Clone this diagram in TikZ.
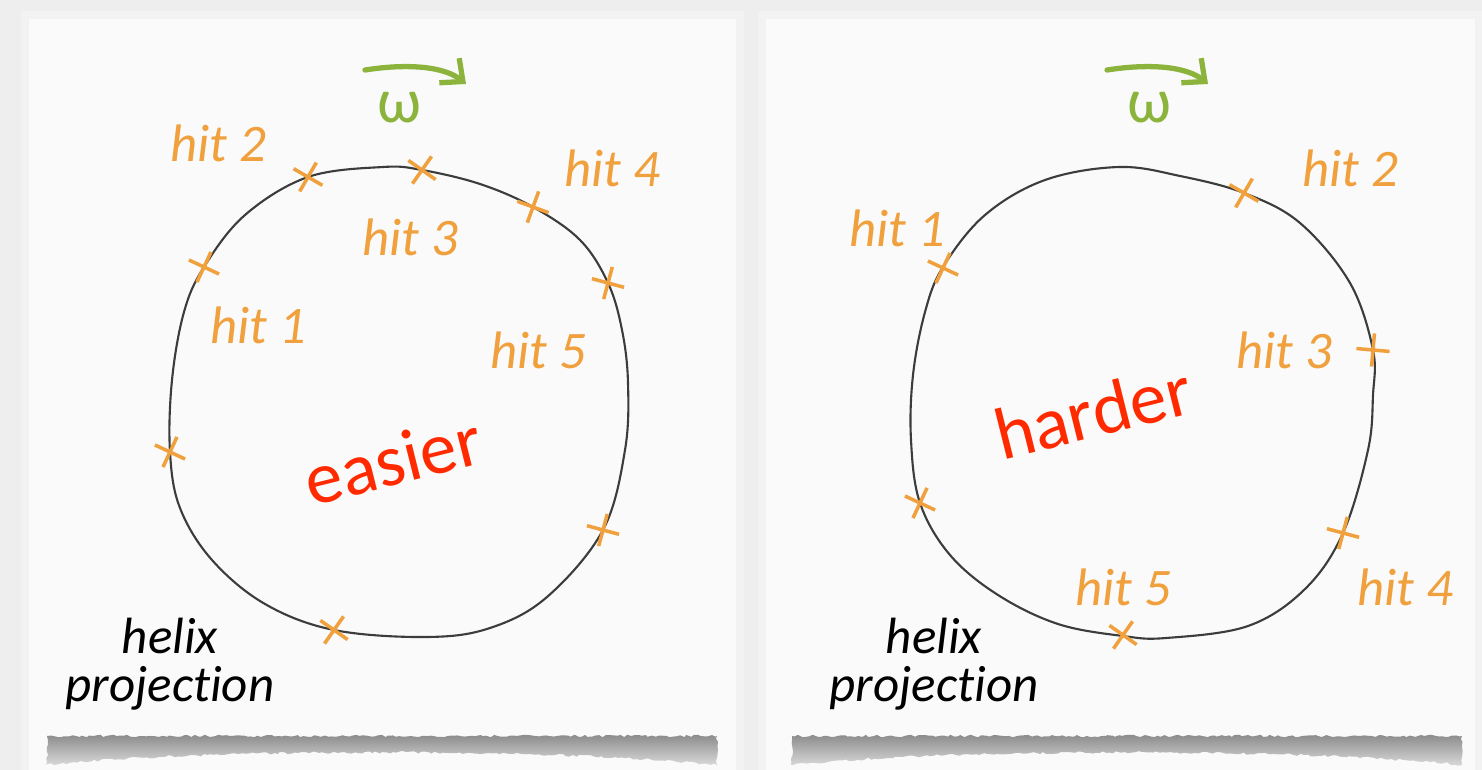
\documentclass[tikz,border=0pt]{standalone}
\usepackage{fontspec}
\setmainfont{Carlito}[Ligatures=NoCommon]
\usetikzlibrary{shapes.misc,arrows.meta,decorations.pathmorphing}
\definecolor{hitorange}{HTML}{F0A03C}
\definecolor{omegagreen}{HTML}{8CB43C}
\definecolor{hardred}{HTML}{FF2A00}
\definecolor{loopgray}{HTML}{3C3C3C}
\definecolor{deskgray}{HTML}{EEEEEE}
\definecolor{paper}{HTML}{FAFAFA}
\begin{document}
\begin{tikzpicture}[x=0.01cm,y=-0.01cm,
    hit cross/.style={cross out,draw=hitorange,line width=1pt,minimum size=0.2cm,inner sep=0pt},
    hit label/.style={text=hitorange,font=\fontsize{15}{15}\selectfont\itshape},
    omega label/.style={text=omegagreen,font=\fontsize{18}{18}\selectfont},
    verdict/.style={text=hardred,font=\fontsize{21}{21}\selectfont,rotate=14},
    helix label/.style={align=center,font=\fontsize{14.5}{13.5}\selectfont\itshape},
    spin arrow/.style={draw=omegagreen,line width=1.5pt,line cap=round,-{Straight Barb[length=5pt,width=9pt]}},
    loop line/.style={draw=loopgray,line width=0.6pt},
    sheet/.style={fill=paper,draw=gray!10,line width=2pt},
    sheet shadow/.style={top color=gray!90,bottom color=gray!30,decorate,decoration={random steps,segment length=1pt,amplitude=0.35pt}}
  ]
  \fill[deskgray] (0,0) rectangle (1482,770);
  \useasboundingbox (0,0) rectangle (1482,770);

  \path[sheet] (25,15) rectangle (740,775);
  \path[sheet] (762,15) rectangle (1478,775);
  \shade[sheet shadow] (47,736) -- (717,736) -- (717,765) .. controls (560,748) and (200,748) .. (47,765) -- cycle;
  \shade[sheet shadow] (792,736) -- (1462,736) -- (1462,765) .. controls (1305,748) and (945,748) .. (792,765) -- cycle;

  % easier
  \path[loop line] plot[smooth cycle,tension=0.6] coordinates {
    (383,167) (422,170) (480,184) (533,207) (580,240) (608,283) (622,330) (628,383)
    (625,450) (603,530) (547,597) (490,628) (427,637) (334,630) (265,604) (212,560)
    (180,508) (170,452) (172,380) (184,312) (204,267) (245,215) (308,177)};

  \node[hit cross,rotate=20] (a1) at (204,267) {};
  \node[hit cross,rotate=15] (a2) at (308,177) {};
  \node[hit cross,rotate=10] (a3) at (422,170) {};
  \node[hit cross,rotate=25] (a4) at (533,207) {};
  \node[hit cross,rotate=30] (a5) at (608,283) {};
  \node[hit cross,rotate=20] (a6) at (170,452) {};
  \node[hit cross,rotate=30] (a7) at (603,530) {};
  \node[hit cross,rotate=10] (a8) at (334,630) {};

  \node[hit label] (la1) at (258,325) {hit 1};
  \node[hit label] (la2) at (218,143) {hit 2};
  \node[hit label] (la3) at (410,237) {hit 3};
  \node[hit label] (la4) at (612,168) {hit 4};
  \node[hit label] (la5) at (538,350) {hit 5};

  \node[omega label] (wa) at (400,108) {ω};
  \coordinate (wa1) at (365,70);
  \coordinate (wa2) at (466,84);
  \draw[spin arrow] (wa1) .. controls (410,63) and (445,67) .. (wa2);

  \node[verdict] (ea) at (393,460) {easier};
  \node[helix label] (ha) at (170,664) {helix\\projection};

  % harder
  \path[loop line] plot[smooth cycle,tension=0.6] coordinates {
    (1119,167) (1180,176) (1244,193) (1300,223) (1350,283) (1373,350)
    (1373,395) (1368,450) (1343,533) (1305,589) (1248,626) (1166,638) (1123,636)
    (1058,624) (998,595) (950,555) (920,503) (911,440) (913,375) (925,312) (943,267)
    (985,215) (1045,180)};

  \node[hit cross,rotate=20] (b1) at (943,268) {};
  \node[hit cross,rotate=15] (b2) at (1244,193) {};
  \node[hit cross,rotate=40] (b3) at (1373,350) {};
  \node[hit cross,rotate=30] (b4) at (1343,533) {};
  \node[hit cross,rotate=10] (b5) at (1123,635) {};
  \node[hit cross,rotate=20] (b6) at (920,503) {};

  \node[hit label] (lb1) at (897,228) {hit 1};
  \node[hit label] (lb2) at (1350,168) {hit 2};
  \node[hit label] (lb3) at (1284,350) {hit 3};
  \node[hit label] (lb4) at (1405,587) {hit 4};
  \node[hit label] (lb5) at (1123,587) {hit 5};

  \node[omega label] (wb) at (1150,108) {ω};
  \coordinate (wb1) at (1107,70);
  \coordinate (wb2) at (1208,84);
  \draw[spin arrow] (wb1) .. controls (1152,63) and (1187,67) .. (wb2);

  \node[verdict] (hb) at (1093,412) {harder};
  \node[helix label] (hh) at (934,664) {helix\\projection};
\end{tikzpicture}
\end{document}
